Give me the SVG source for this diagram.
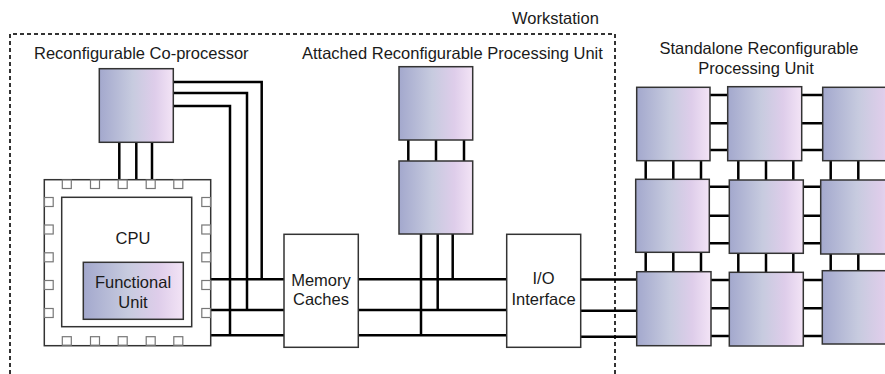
<svg xmlns="http://www.w3.org/2000/svg" width="885" height="374" viewBox="0 0 885 374">
<style>
.t{font-family:"Liberation Sans",Arial,sans-serif;font-size:16.5px;fill:#1a1a1a}
.c{text-anchor:middle}
.w{stroke:#000;stroke-width:2.5;fill:none}
.rc{fill:url(#g);stroke:#333;stroke-width:1.5}
.bx{fill:#fff;stroke:#333;stroke-width:1.5}
.pin{fill:#fff;stroke:#777;stroke-width:1.2}
.ws{fill:none;stroke:#333;stroke-width:2;stroke-dasharray:4 3}
</style>
<defs>
<linearGradient id="g" x1="0" y1="0" x2="1" y2="0">
<stop offset="0" stop-color="#a3a8cd"/>
<stop offset="0.45" stop-color="#c7cbdf"/>
<stop offset="0.75" stop-color="#decdea"/>
<stop offset="1" stop-color="#f3e4f6"/>
</linearGradient>
</defs>
<rect width="885" height="374" fill="#fff"/>
<g id="workstation">
<path class="ws" d="M10,374 V34 H615 V374"/>
<text class="t" x="512" y="24">Workstation</text>
</g>
<g id="connectors">
<path class="w" d="M119.3,142 V180 M136.3,142 V180 M152,142 V180"/>
<path class="w" d="M173,82 H261.7 V279.3 M173,93 H247 V310 M173,106 H230 V335.3"/>
<path class="w" d="M211,279.3 H284 M211,310 H284 M211,335.3 H284"/>
<path class="w" d="M358,279.3 H507 M358,310 H507 M358,335.3 H507"/>
<path class="w" d="M408.3,140 V161 M436,140 V161 M464,140 V161"/>
<path class="w" d="M421,234 V335.3 M437.7,234 V310 M452.7,234 V279.3"/>
<path class="w" d="M581,279.5 H637 M581,310.7 H637 M581,336.7 H637"/>
<path class="w" d="M710,95 H885 M710,123.3 H885 M710,150 H885"/>
<path class="w" d="M709,186.7 H885 M709,215.7 H885 M709,243.3 H885"/>
<path class="w" d="M711,280 H885 M711,308.3 H885 M711,336 H885"/>
<path class="w" d="M645.7,160 V273 M673.3,160 V273 M701,160 V273 M738.3,160 V273 M766,160 V273 M793.3,160 V273 M830.7,160 V272 M858.3,160 V272"/>
</g>
<g id="coprocessor">
<text class="t" x="34" y="59">Reconfigurable Co-processor</text>
<rect class="rc" x="99.3" y="68.7" width="74" height="73.6"/>
</g>
<g id="cpu">
<rect class="bx" x="44.3" y="179.7" width="166.4" height="166"/>
<rect class="pin" x="62.3" y="180" width="9" height="8.5"/>
<rect class="pin" x="90.5" y="180" width="9" height="8.5"/>
<rect class="pin" x="118.2" y="180" width="9" height="8.5"/>
<rect class="pin" x="146.2" y="180" width="9" height="8.5"/>
<rect class="pin" x="173.8" y="180" width="9" height="8.5"/>
<rect class="pin" x="62.3" y="336.7" width="9" height="8.5"/>
<rect class="pin" x="90.5" y="336.7" width="9" height="8.5"/>
<rect class="pin" x="118.2" y="336.7" width="9" height="8.5"/>
<rect class="pin" x="146.2" y="336.7" width="9" height="8.5"/>
<rect class="pin" x="173.8" y="336.7" width="9" height="8.5"/>
<rect class="pin" x="44.5" y="197.5" width="8.7" height="9"/>
<rect class="pin" x="44.5" y="225" width="8.7" height="9"/>
<rect class="pin" x="44.5" y="252.8" width="8.7" height="9"/>
<rect class="pin" x="44.5" y="280.5" width="8.7" height="9"/>
<rect class="pin" x="44.5" y="308.5" width="8.7" height="9"/>
<rect class="pin" x="201.8" y="197.5" width="8.7" height="9"/>
<rect class="pin" x="201.8" y="225" width="8.7" height="9"/>
<rect class="pin" x="201.8" y="252.8" width="8.7" height="9"/>
<rect class="pin" x="201.8" y="280.5" width="8.7" height="9"/>
<rect class="pin" x="201.8" y="308.5" width="8.7" height="9"/>
<rect class="bx" x="61.7" y="197.3" width="130" height="129.4"/>
<text class="t c" x="133" y="244">CPU</text>
</g>
<g id="functional-unit">
<rect class="rc" x="83.3" y="262.3" width="100" height="57"/>
<text class="t c" x="133" y="288.3">Functional</text>
<text class="t c" x="133" y="307.7">Unit</text>
</g>
<g id="memory-caches">
<rect class="bx" x="284" y="234.3" width="74.3" height="113"/>
<text class="t c" x="321" y="285.5">Memory</text>
<text class="t c" x="321" y="305">Caches</text>
</g>
<g id="attached-unit">
<text class="t" x="302" y="59">Attached Reconfigurable Processing Unit</text>
<rect class="rc" x="399" y="66.7" width="73.7" height="73.3"/>
<rect class="rc" x="399" y="161" width="73.7" height="73"/>
</g>
<g id="io-interface">
<rect class="bx" x="506.7" y="234.3" width="74" height="113"/>
<text class="t c" x="543.5" y="284">I/O</text>
<text class="t c" x="543.5" y="305">Interface</text>
</g>
<g id="standalone-unit">
<text class="t c" x="759" y="54">Standalone Reconfigurable</text>
<text class="t c" x="756" y="73.5">Processing Unit</text>
<rect class="rc" x="636.7" y="87.3" width="73.3" height="73.4"/>
<rect class="rc" x="727.7" y="86.7" width="74" height="74"/>
<rect class="rc" x="822.7" y="87.3" width="80" height="73.4"/>
<rect class="rc" x="635.7" y="179.3" width="73.6" height="73"/>
<rect class="rc" x="729.3" y="180" width="74" height="73.3"/>
<rect class="rc" x="820.7" y="180" width="80" height="74"/>
<rect class="rc" x="636.7" y="271.7" width="74.3" height="74"/>
<rect class="rc" x="729.3" y="272.3" width="74" height="73.7"/>
<rect class="rc" x="822.3" y="270.7" width="80" height="73.3"/>
</g>
</svg>
